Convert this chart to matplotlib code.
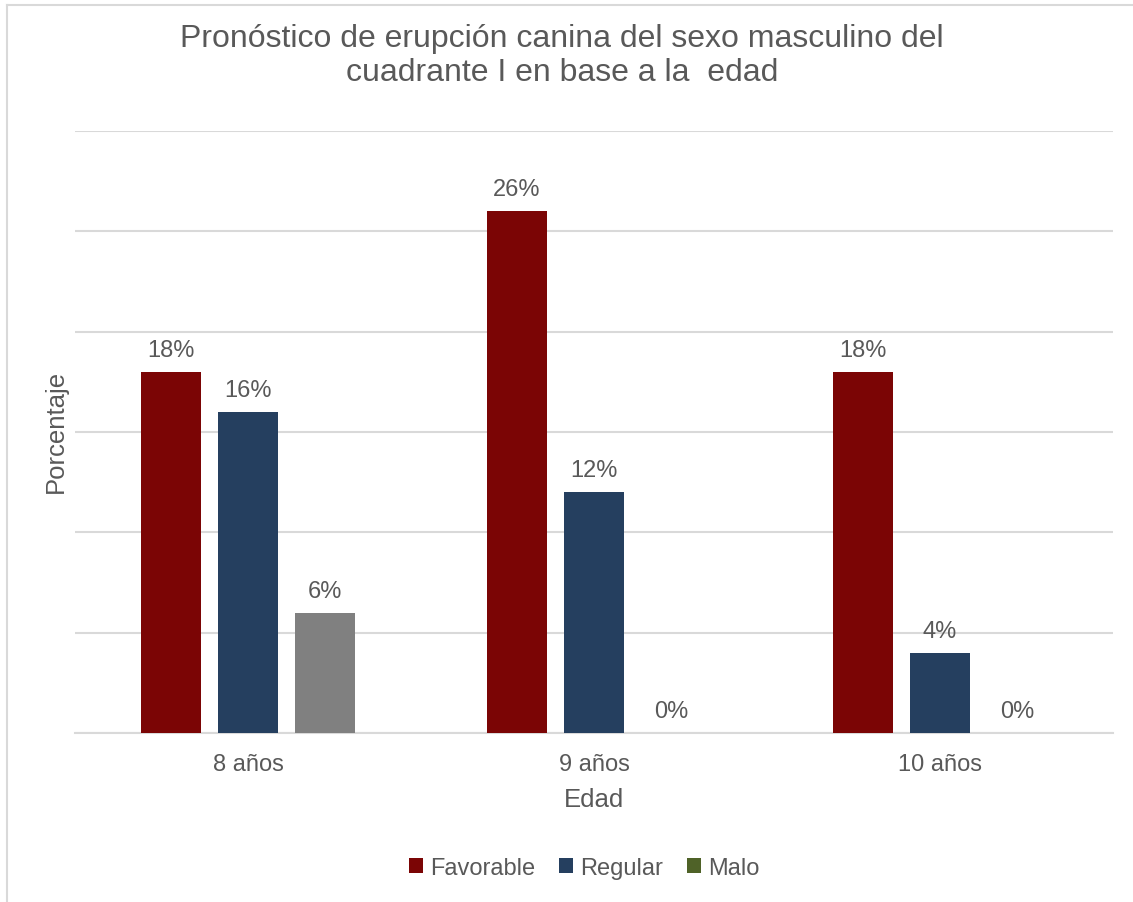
import matplotlib
matplotlib.use("Agg")
import matplotlib.pyplot as plt
import numpy as np
from matplotlib.patches import Patch
from matplotlib.lines import Line2D

plt.rcParams['font.family'] = ['Liberation Sans', 'DejaVu Sans']

categories = ["8 años", "9 años", "10 años"]
series_names = ["Favorable", "Regular", "Malo"]
favorable = [18, 26, 18]
regular = [16, 12, 4]
malo = [6, 0, 0]
bar_colors = ["#7b0505", "#253f5f", "#808080"]
legend_colors = ["#7b0505", "#253f5f", "#4f6228"]
text_color = "#595959"
grid_color = "#d9d9d9"

W, H = 1133, 903
fig = plt.figure(figsize=(W / 100, H / 100), dpi=100)
ax = fig.add_axes([75 / W, (H - 734) / H, (1113 - 75) / W, (734 - 132) / H])

x = np.arange(len(categories))
offsets = [-0.2225, 0.0, 0.2225]
width = 0.173
for vals, off, col in zip([favorable, regular, malo], offsets, bar_colors):
    bars = ax.bar(x + off, vals, width=width, color=col, zorder=3)
    for b, v in zip(bars, vals):
        ax.text(b.get_x() + b.get_width() / 2, v + 0.8, f"{v}%",
                ha="center", va="baseline", fontsize=17, color=text_color, zorder=4)

ax.set_xlim(-0.5, 2.5)
ax.set_ylim(0, 30)
ax.set_yticks(np.arange(0, 31, 5))
ax.yaxis.grid(True, color=grid_color, linewidth=1.5, zorder=0)
ax.tick_params(axis="y", left=False, labelleft=False)
ax.tick_params(axis="x", bottom=False, labelsize=17, labelcolor=text_color, pad=11)
ax.set_xticks(x)
ax.set_xticklabels(categories)
for s in ["top", "right", "left"]:
    ax.spines[s].set_visible(False)
ax.spines["bottom"].set_color(grid_color)
ax.spines["bottom"].set_linewidth(1.5)

title_lines = ["Pronóstico de erupción canina del sexo masculino del",
               "cuadrante I en base a la  edad"]
for line, ypx in zip(title_lines, [39, 73]):
    fig.text(562 / W, 1 - ypx / H, line, ha="center", va="center",
             fontsize=23, color=text_color)
fig.text(594 / W, 1 - 800 / H, "Edad", ha="center", va="center", fontsize=18.5, color=text_color)
fig.text(56 / W, 1 - 431 / H, "Porcentaje", ha="center", va="center", rotation=90,
         fontsize=18.5, color=text_color)

handles = [Patch(facecolor=c, edgecolor="none") for c in legend_colors]
fig.legend(handles, series_names, loc="center", bbox_to_anchor=(584 / W, 1 - 869 / H),
           ncol=3, frameon=False, fontsize=17, labelcolor=text_color,
           handlelength=0.6, handleheight=0.6, handletextpad=0.3, columnspacing=1.0)

# outer chart frame (top and left edges)
fig.add_artist(Line2D([7 / W, 1], [1 - 6 / H, 1 - 6 / H], transform=fig.transFigure,
                      color=grid_color, linewidth=1.5))
fig.add_artist(Line2D([7 / W, 7 / W], [0, 1 - 6 / H], transform=fig.transFigure,
                      color=grid_color, linewidth=1.5))

fig.savefig("out.png", dpi=100, facecolor="white")
